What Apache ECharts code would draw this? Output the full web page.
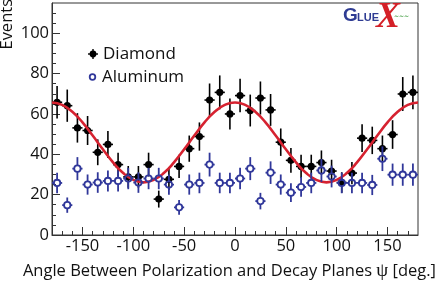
<!DOCTYPE html>
<html><head><meta charset="utf-8">
<script src="https://cdn.jsdelivr.net/npm/echarts@6/dist/echarts.min.js"></script>
<style>html,body{margin:0;padding:0;background:#fff}#c{width:436px;height:282px}</style>
</head><body><div id="c"></div>
<script>
// ---- data ----
const angles = [-175,-165,-155,-145,-135,-125,-115,-105,-95,-85,-75,-65,-55,-45,-35,-25,-15,-5,
                5,15,25,35,45,55,65,75,85,95,105,115,125,135,145,155,165,175];
const diamond = [65.8,64.1,53.1,51.8,41,44.9,34.9,28.8,28.8,34.9,17.8,27.6,34,42.8,48.8,66.9,70.7,60,
                 69.1,61.7,67.9,62,46,37,34,34,35.9,31.7,26,30.7,48,46.9,42.8,49.8,69.9,70.7];
const diamondErr = [8.1,8,7.3,7.2,6.4,6.7,5.9,5.4,5.4,5.9,4.2,5.3,5.8,6.5,7,8.2,8.4,7.7,
                    8.3,7.9,8.2,7.9,6.8,6.1,5.8,5.8,6,5.6,5.1,5.5,6.9,6.8,6.5,7.1,8.4,8.4];
const aluminum = [25.8,14.8,32.9,25,26,26.8,26.8,28,26,28,28,25,13.7,25,25.8,34.9,25.8,25.8,
                  28,32.9,16.8,30.9,25,21,23.8,25.8,32,29,25.8,25.8,25.8,24.8,37.8,29.9,29.9,29.9];
const aluminumErr = [5.1,3.8,5.7,5,5.1,5.2,5.2,5.3,5.1,5.3,5.3,5,3.7,5,5.1,5.9,5.1,5.1,
                     5.3,5.7,4.1,5.6,5,4.6,4.9,5.1,5.7,5.4,5.1,5.1,5.1,5,6.1,5.5,5.5,5.5];
const fitAngles = [-180,-170,-160,-150,-140,-130,-120,-110,-100,-90,-80,-70,-60,-50,-40,-30,-20,-10,0,
                   10,20,30,40,50,60,70,80,90,100,110,120,130,140,150,160,170,180];
const fitValues = [65.7,64.5,61.1,55.8,49.3,42.5,36.0,30.7,27.3,26.1,27.3,30.7,36.0,42.5,49.3,55.8,61.1,64.5,65.7,
                   64.5,61.1,55.8,49.3,42.5,36.0,30.7,27.3,26.1,27.3,30.7,36.0,42.5,49.3,55.8,61.1,64.5,65.7];
const xTicks = [-150,-100,-50,0,50,100,150];
const xMinorTicks = [-170,-160,-140,-130,-120,-110,-90,-80,-70,-60,-40,-30,-20,-10,
                     10,20,30,40,60,70,80,90,110,120,130,140,160,170];
const yTicks = [0,20,40,60,80,100];
const yMinorTicks = [5,10,15,25,30,35,45,50,55,65,70,75,85,90,95,105,110];
const binHalfWidth = 5;

const FONT = 'Open Sans';
const BLUE = '#30379a';
const RED = '#d62230';
const AXIS = '#333';

function seg(a, b, color, w) {
  return {type:'line', shape:{x1:a[0], y1:a[1], x2:b[0], y2:b[1]}, style:{stroke:color, lineWidth:w}};
}
function renderFilled(params, api) {
  const x = api.value(0), y = api.value(1), e = api.value(2);
  const c = api.coord([x, y]);
  const t = api.coord([x, y + e]), b = api.coord([x, y - e]);
  const l = api.coord([x - binHalfWidth, y]), r = api.coord([x + binHalfWidth, y]);
  return {type:'group', children:[
    seg(t, b, '#000', 1.6), seg(l, r, '#000', 1.6),
    {type:'circle', shape:{cx:c[0], cy:c[1], r:3.6}, style:{fill:'#000'}}
  ]};
}
function renderOpen(params, api) {
  const x = api.value(0), y = api.value(1), e = api.value(2);
  const c = api.coord([x, y]);
  const t = api.coord([x, y + e]), b = api.coord([x, y - e]);
  const l = api.coord([x - binHalfWidth, y]), r = api.coord([x + binHalfWidth, y]);
  const rad = 3.2;
  return {type:'group', children:[
    seg(t, [c[0], c[1] - rad], BLUE, 1.8), seg([c[0], c[1] + rad], b, BLUE, 1.8),
    seg(l, [c[0] - rad, c[1]], BLUE, 1.8), seg([c[0] + rad, c[1]], r, BLUE, 1.8),
    {type:'circle', shape:{cx:c[0], cy:c[1], r:rad}, style:{fill:'none', stroke:BLUE, lineWidth:1.8}}
  ]};
}

const chart = echarts.init(document.getElementById('c'), null, {renderer:'canvas'});
const labelStyle = {fontFamily:FONT, fontSize:16.5, color:'#111'};
chart.setOption({
  animation:false,
  backgroundColor:'#fff',
  grid:{left:52, right:18, top:3, bottom:47, show:true, borderColor:AXIS, borderWidth:1, backgroundColor:'transparent'},
  xAxis:[
    {type:'value', min:-180, max:180, position:'bottom',
     axisLine:{show:true, onZero:false, lineStyle:{color:AXIS, width:1}},
     axisTick:{show:true, inside:true, length:8, customValues:xTicks, lineStyle:{color:AXIS, width:1}},
     axisLabel:Object.assign({show:true, margin:3, customValues:xTicks}, labelStyle),
     splitLine:{show:false}},
    {type:'value', min:-180, max:180, position:'bottom',
     axisLine:{show:false, onZero:false},
     axisTick:{show:true, inside:true, length:4, customValues:xMinorTicks, lineStyle:{color:AXIS, width:1}},
     axisLabel:{show:false}, splitLine:{show:false}}
  ],
  yAxis:[
    {type:'value', min:0, max:115, position:'left',
     axisLine:{show:true, onZero:false, lineStyle:{color:AXIS, width:1}},
     axisTick:{show:true, inside:true, length:8, customValues:yTicks, lineStyle:{color:AXIS, width:1}},
     axisLabel:Object.assign({show:true, margin:3, customValues:yTicks}, labelStyle),
     splitLine:{show:false}},
    {type:'value', min:0, max:115, position:'left',
     axisLine:{show:false, onZero:false},
     axisTick:{show:true, inside:true, length:4, customValues:yMinorTicks, lineStyle:{color:AXIS, width:1}},
     axisLabel:{show:false}, splitLine:{show:false}}
  ],
  series:[
    {name:'Diamond', type:'custom', xAxisIndex:0, yAxisIndex:0, renderItem:renderFilled,
     encode:{x:0, y:1}, clip:true, z:2,
     data:angles.map((a, i) => [a, diamond[i], diamondErr[i]])},
    {name:'Fit', type:'line', xAxisIndex:0, yAxisIndex:0, smooth:0.5, symbol:'none', z:3,
     lineStyle:{color:RED, width:2.6}, clip:true,
     data:fitAngles.map((a, i) => [a, fitValues[i]])},
    {name:'Aluminum', type:'custom', xAxisIndex:0, yAxisIndex:0, renderItem:renderOpen,
     encode:{x:0, y:1}, clip:true, z:4,
     data:angles.map((a, i) => [a, aluminum[i], aluminumErr[i]])}
  ],
  graphic:[
    // y-axis title
    {type:'text', x:7.5, y:-1, rotation:Math.PI/2,
     style:{text:'Events', font:'16.5px "Open Sans"', fill:'#111', align:'right', verticalAlign:'middle'}},
    // x-axis title
    {type:'text', x:436, y:271.5,
     style:{text:'Angle Between Polarization and Decay Planes {p|ψ} [deg.]',
            font:'16.5px "Open Sans"', fill:'#111', align:'right', verticalAlign:'middle',
            rich:{p:{fontFamily:'Liberation Serif', fontSize:19, fill:'#111'}}}},
    // legend
    {type:'line', shape:{x1:88, y1:54, x2:98, y2:54}, style:{stroke:'#000', lineWidth:1.4}},
    {type:'line', shape:{x1:93, y1:49, x2:93, y2:59}, style:{stroke:'#000', lineWidth:1.4}},
    {type:'circle', shape:{cx:93, cy:54, r:3.4}, style:{fill:'#000'}},
    {type:'text', x:103, y:54, style:{text:'Diamond', font:'17px "Open Sans"', fill:'#111', verticalAlign:'middle'}},
    {type:'circle', shape:{cx:92.5, cy:77, r:2.8}, style:{fill:'none', stroke:BLUE, lineWidth:1.8}},
    {type:'text', x:102, y:77, style:{text:'Aluminum', font:'17px "Open Sans"', fill:'#111', verticalAlign:'middle'}},
    // GlueX logo
    {type:'text', x:343, y:16, style:{text:'G', font:'bold 19px "Liberation Sans"', fill:'#2f3c93', verticalAlign:'middle'}},
    {type:'text', x:357, y:17.5, style:{text:'LUE', font:'bold 11px "Liberation Sans"', fill:'#2f3c93', verticalAlign:'middle'}},
    {type:'text', x:376, y:18, style:{text:'X', font:'italic bold 36px "Liberation Serif"', fill:'#d42027', verticalAlign:'middle'}},
    {type:'text', x:394, y:16.5, z:10, style:{text:'~~~', font:'bold 6px "DejaVu Sans"', fill:'#3c9a3c', verticalAlign:'middle'}}
  ]
});
</script></body></html>
